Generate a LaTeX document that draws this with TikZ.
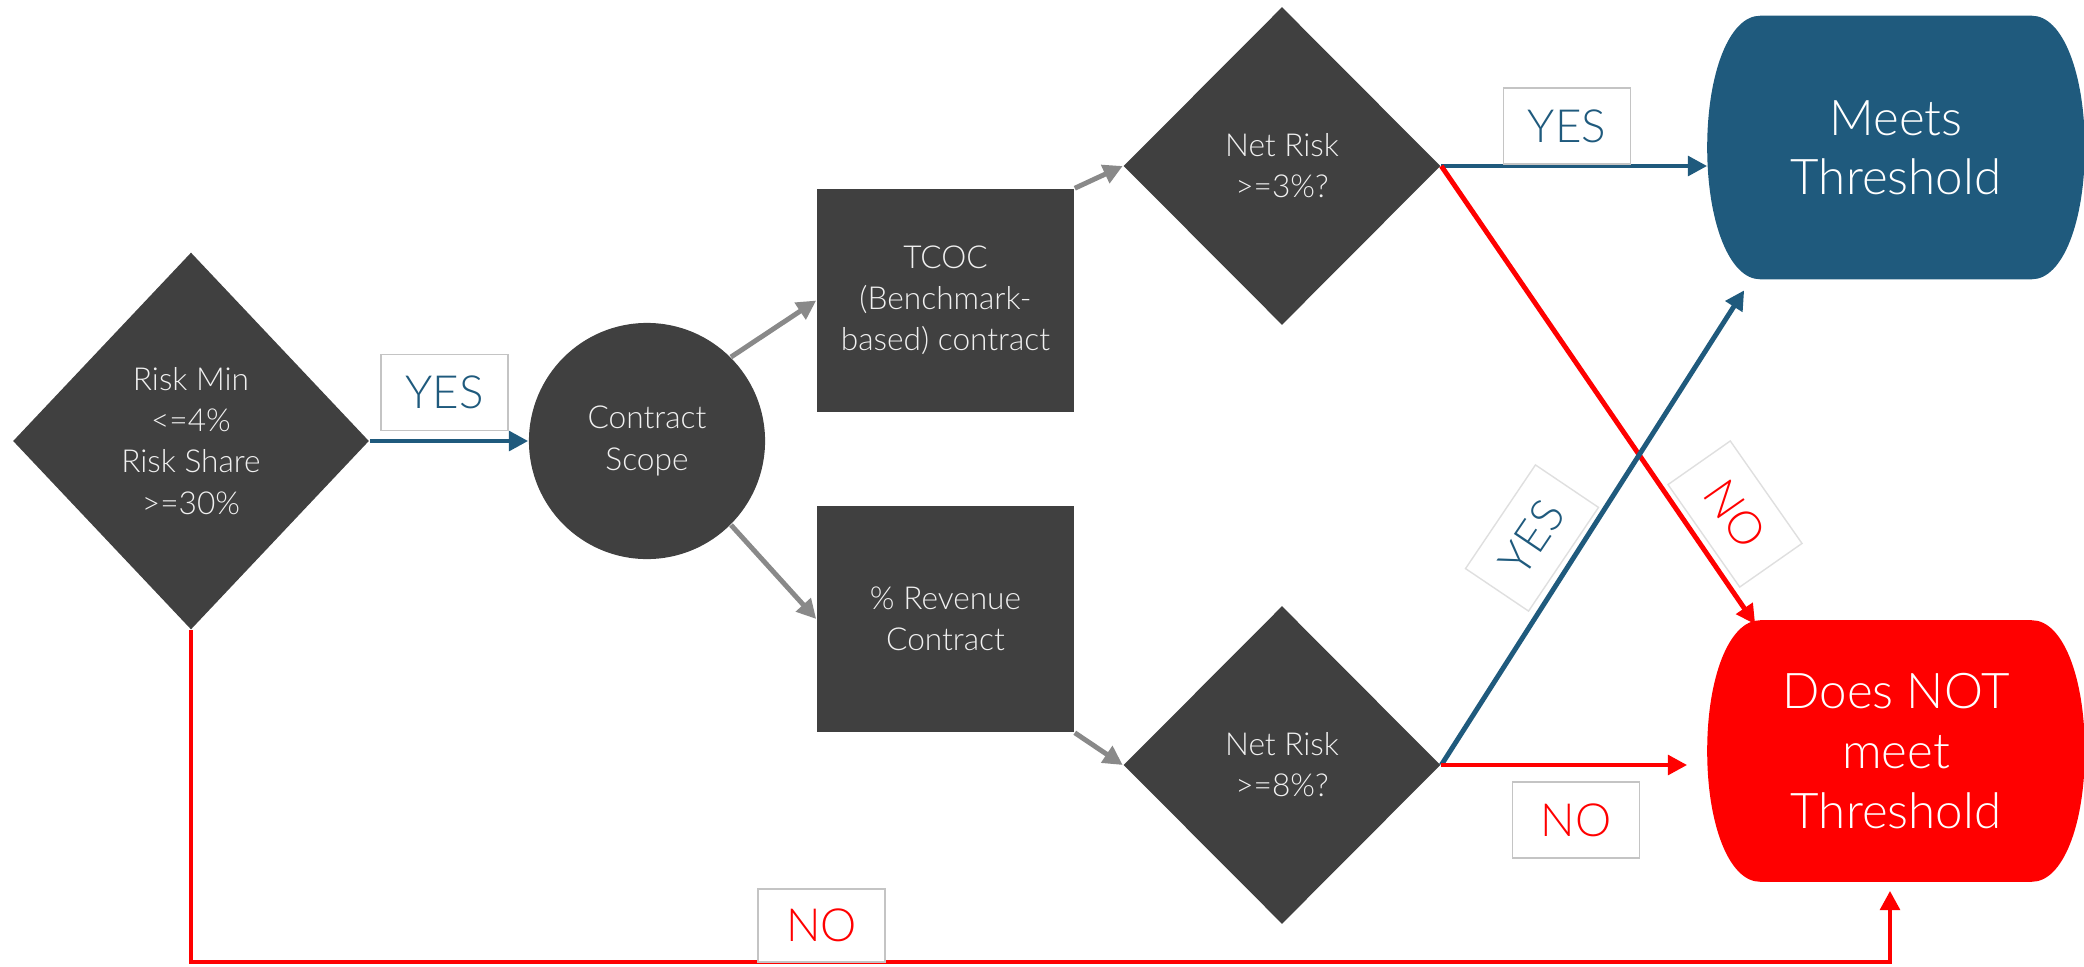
\documentclass[tikz,border=0pt]{standalone}
\usepackage{fontspec}
\IfFontExistsTF{Lato Light}{\setmainfont{Lato Light}}{\setmainfont{Lato}}
\usetikzlibrary{shapes.geometric,arrows.meta,calc,backgrounds}
\definecolor{dk}{HTML}{404040}
\definecolor{bl}{HTML}{1F5A7D}
\definecolor{rd}{HTML}{FF0000}
\definecolor{gr}{HTML}{898989}
\definecolor{lb}{HTML}{C4C4C4}
\newcommand\termshape[2]{%
  \fill[#2] ($(#1.north west)+(53,0)$) -- ($(#1.north east)+(-53,0)$)
    .. controls +(31,0) and +(0,-74) .. (#1.east)
    .. controls +(0,74) and +(31,0) .. ($(#1.south east)+(-53,0)$)
    -- ($(#1.south west)+(53,0)$)
    .. controls +(-31,0) and +(0,74) .. (#1.west)
    .. controls +(0,-74) and +(-31,0) .. cycle;}
\begin{document}
\begin{tikzpicture}[x=0.01cm,y=-0.01cm,
  dec/.style={diamond, fill=dk, inner sep=0pt, aspect=1},
  txt/.style={text=white!94!black, align=center, font=\fontsize{9}{11.7}\selectfont},
  proc/.style={rectangle, fill=dk, minimum width=2.57cm, minimum height=2.23cm, inner sep=0pt, txt},
  lab/.style={draw=lb, fill=white, line width=0.5pt, minimum width=1.27cm, minimum height=0.76cm, inner sep=0pt, font=\fontsize{13}{15}\selectfont},
  rlab/.style={lab, draw=lb!55, line width=0.4pt, minimum width=1.25cm, minimum height=0.76cm},
  arr/.style={line width=1.4pt, -{Triangle[length=5.5pt,width=5.5pt]}},
  term/.style={align=center, text=white, inner sep=0pt, minimum width=3.76cm}
]
\useasboundingbox (0,0) rectangle (2084,966);

% decisions and processes
\node[dec, minimum width=3.56cm, minimum height=3.77cm] (d1) at (191,441) {};
\node[txt] (t1) at (d1) {Risk Min\\<=4\%\\Risk Share\\>=30\%};
\node[circle, fill=dk, minimum size=2.36cm, inner sep=0pt, txt] (cs) at (647,441) {Contract\\Scope};
\node[proc] (tcoc) at (945.5,300.5) {TCOC\\(Benchmark-\\based) contract};
\node[proc, minimum height=2.26cm] (rev) at (945.5,619) {\%~Revenue\\Contract};
\node[dec, minimum width=3.17cm, minimum height=3.18cm] (d2) at (1282,166) {};
\node[txt] (t2) at (d2) {Net Risk\\>=3\%?};
\node[dec, minimum width=3.17cm, minimum height=3.18cm] (d3) at (1282,765) {};
\node[txt] (t3) at (d3) {Net Risk\\>=8\%?};

% terminals
\node[term, minimum height=2.62cm, font=\fontsize{14}{16.8}\selectfont] (meets) at (1896,147.5) {Meets\\Threshold};
\node[term, minimum height=2.60cm, font=\fontsize{14}{17}\selectfont] (notm) at (1896,751) {Does NOT\\meet\\Threshold};
\begin{scope}[on background layer]
  \termshape{meets}{bl}
  \termshape{notm}{rd}
\end{scope}

% connectors
\draw[arr, bl] (d1.east) -- (cs.west);
\draw[arr, gr] (cs.north east) -- (tcoc.west);
\draw[arr, gr] (cs.south east) -- (rev.west);
\draw[arr, gr] (tcoc.north east) -- (d2.west);
\draw[arr, gr] (rev.south east) -- (d3.west);
\draw[arr, bl] (d2.east) -- (d2.east -| meets.west);
\draw[arr, rd] (d2.east) -- ($(notm.north west)+(48,4)$);
\draw[arr, bl] (d3.east) -- ($(meets.south west)+(37,11)$);
\draw[arr, rd] (d3.east) -- ($(d3.east -| notm.west)+(-20,0)$);
\coordinate (ybot) at (0,962);
\coordinate (nend) at ($(notm.south)+(-6,9)$);
\draw[arr, rd] (d1.south) -- (d1.south |- ybot) -| (nend);

% labels
\node[lab, text=bl] (y1) at (444.5,392.5) {YES};
\node[lab, text=bl] (y2) at (1567,126) {YES};
\node[lab, text=rd] (n3) at (1576,820) {NO};
\node[lab, text=rd, minimum height=0.73cm] (n1) at (821.5,925.5) {NO};
\node[rlab, text=bl, rotate=56] (y3) at (1532,538) {YES};
\node[rlab, text=rd, rotate=-55] (n2) at (1735,514) {NO};
\end{tikzpicture}
\end{document}
